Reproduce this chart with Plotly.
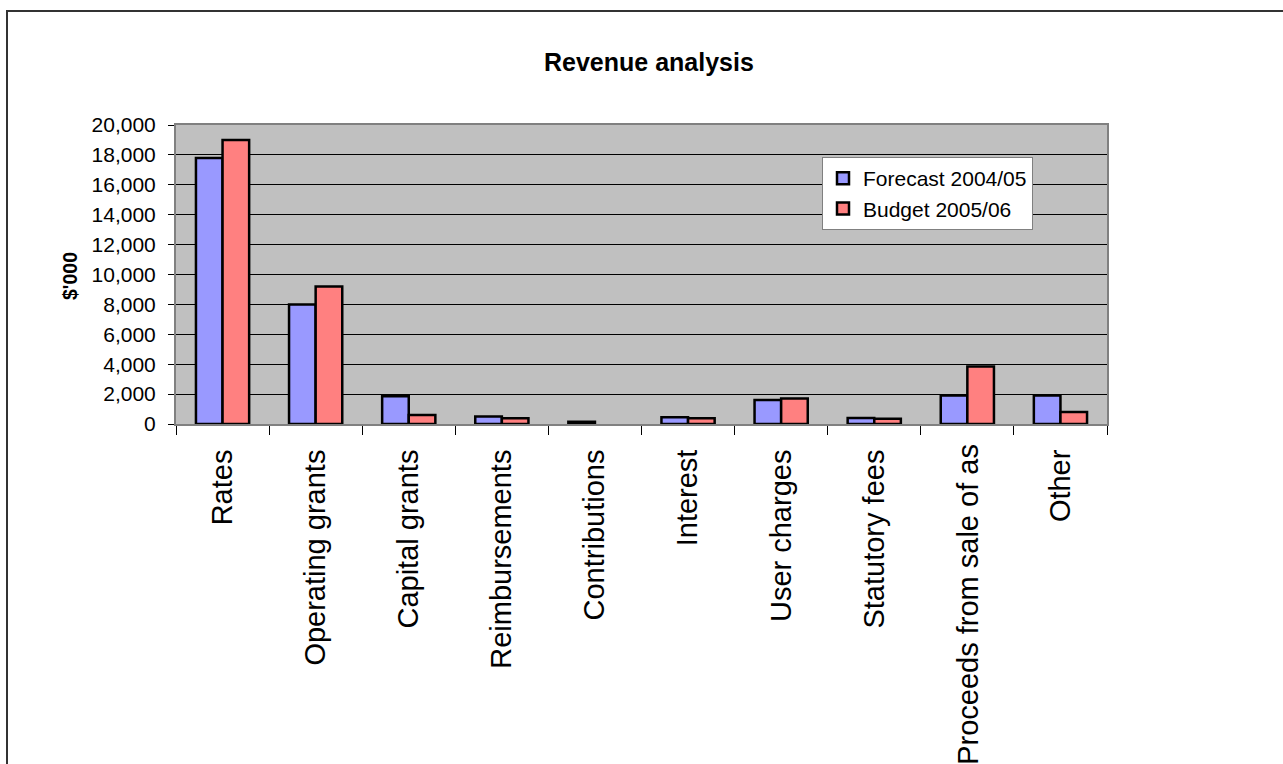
import plotly.graph_objects as go

categories = ["Rates", "Operating grants", "Capital grants", "Reimbursements",
              "Contributions", "Interest", "User charges", "Statutory fees",
              "Proceeds from sale of assets", "Other"]
# Label as visible in the reference (Excel clipped the long one)
tick_labels = ["Rates", "Operating grants", "Capital grants", "Reimbursements",
               "Contributions", "Interest", "User charges", "Statutory fees",
               "", "Other"]
long_label = "Proceeds from sale of as"
forecast_2004_05 = [17800, 8000, 1850, 500, 150, 450, 1600, 400, 1900, 1900]
budget_2005_06 = [19000, 9200, 600, 380, 0, 380, 1700, 350, 3850, 800]
y_ticks = [0, 2000, 4000, 6000, 8000, 10000, 12000, 14000, 16000, 18000, 20000]

FONT = "Arial, Liberation Sans, sans-serif"
W, H = 1283, 764
L, R, T, B = 176, 176, 125, 340
PW, PH = W - L - R, H - T - B


def px_x(x):
    return (x - L) / PW


def px_y(y):
    return (H - B - y) / PH


def outline(vals):
    return [0 if v == 0 else 2.5 for v in vals]


fig = go.Figure()
fig.add_trace(go.Bar(name="Forecast 2004/05", x=categories, y=forecast_2004_05,
                     marker=dict(color="#9999FF",
                                 line=dict(color="black", width=outline(forecast_2004_05)))))
fig.add_trace(go.Bar(name="Budget 2005/06", x=categories, y=budget_2005_06,
                     marker=dict(color="#FF8080",
                                 line=dict(color="black", width=outline(budget_2005_06)))))

fig.update_layout(
    width=W, height=H,
    margin=dict(l=L, r=R, t=T, b=B, autoexpand=False),
    paper_bgcolor="white",
    plot_bgcolor="#C0C0C0",
    barmode="group",
    bargap=0.4286,
    bargroupgap=0,
    font=dict(family=FONT, color="black"),
    showlegend=True,
    legend=dict(x=px_x(822), y=px_y(157), xanchor="left", yanchor="top",
                bgcolor="white", bordercolor="#808080", borderwidth=1,
                font=dict(size=21, family=FONT), tracegroupgap=0,
                itemwidth=30),
    xaxis=dict(
        type="category",
        tickmode="array", tickvals=categories, ticktext=tick_labels,
        tickangle=-90,
        tickfont=dict(size=29, family=FONT),
        ticks="outside", ticklen=9, tickcolor="black", tickwidth=1,
        tickson="boundaries",
        ticklabelstandoff=12,
        showline=True, linecolor="#808080", linewidth=2, mirror=True,
        showgrid=False,
    ),
    yaxis=dict(
        range=[0, 20000],
        tickmode="array", tickvals=y_ticks,
        ticktext=[f"{v:,}" for v in y_ticks],
        tickfont=dict(size=21, family=FONT),
        ticks="outside", ticklen=6, tickcolor="black", tickwidth=1,
        ticklabelstandoff=8,
        showline=True, linecolor="#808080", linewidth=2, mirror=True,
        showgrid=True, gridcolor="black", gridwidth=1,
        zeroline=False,
    ),
    annotations=[
        dict(text="<b>Revenue analysis</b>", xref="paper", yref="paper",
             x=px_x(649), y=px_y(62), xanchor="center", yanchor="middle",
             showarrow=False, font=dict(size=25, family=FONT)),
        dict(text="<b>$'000</b>", xref="paper", yref="paper",
             x=px_x(70), y=px_y(276), xanchor="center", yanchor="middle",
             textangle=-90, showarrow=False, font=dict(size=19.5, family=FONT)),
        dict(text=long_label, xref="x", yref="paper",
             x=categories[8], y=px_y(442), xanchor="center", yanchor="top",
             textangle=-90, showarrow=False, font=dict(size=29, family=FONT)),
    ],
    shapes=[
        dict(type="rect", xref="paper", yref="paper",
             x0=px_x(7), x1=px_x(1292), y0=px_y(790), y1=px_y(11),
             line=dict(color="#333333", width=2), fillcolor="rgba(0,0,0,0)",
             layer="below"),
    ],
)

fig.write_html("out.html")
